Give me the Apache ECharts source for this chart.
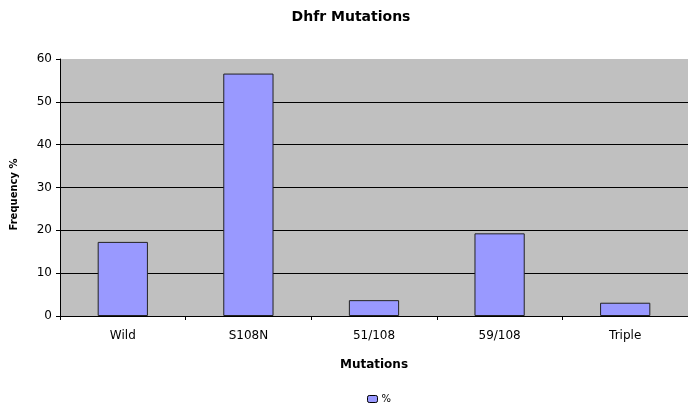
<!DOCTYPE html>
<html><head><meta charset="utf-8">
<script src="https://cdn.jsdelivr.net/npm/echarts@6/dist/echarts.min.js"></script>
<style>html,body{margin:0;padding:0;background:#fff}#c{width:688px;height:406px}</style>
</head><body><div id="c"></div>
<script>
const categories = ['Wild', 'S108N', '51/108', '59/108', 'Triple'];
const values = [17.3, 56.6, 3.7, 19.3, 3.1];
const yTicks = [0, 10, 20, 30, 40, 50, 60];
const seriesName = '%';

const chart = echarts.init(document.getElementById('c'), null, {renderer: 'canvas'});
const font = 'DejaVu Sans, Liberation Sans, Arial, sans-serif';
const gridLines = yTicks.slice(1, -1).map(v => ({yAxis: v}));
chart.setOption({
  animation: false,
  backgroundColor: '#fff',
  title: {
    text: 'Dhfr Mutations', left: 346, top: 5, textAlign: 'center',
    textStyle: {fontFamily: font, fontSize: 14, fontWeight: 'bold', color: '#000'}
  },
  legend: {
    data: [seriesName], left: 362, top: 389, itemWidth: 10, itemHeight: 7, itemGap: 4,
    textStyle: {fontFamily: font, fontSize: 10, color: '#000', padding: [0, 0, 0, -1]},
    itemStyle: {borderColor: '#000', borderWidth: 1}
  },
  grid: {left: 60, top: 59, width: 633, height: 257, backgroundColor: '#c0c0c0', show: true,
         borderWidth: 0, borderColor: 'rgba(0,0,0,0)'},
  xAxis: {
    type: 'category', data: categories,
    name: 'Mutations', nameLocation: 'middle', nameGap: 43,
    nameTextStyle: {fontFamily: font, fontSize: 12, fontWeight: 'bold', color: '#000'},
    axisLine: {lineStyle: {color: '#000', width: 1}},
    axisTick: {show: true, length: 4, lineStyle: {color: '#000'}},
    axisLabel: {fontFamily: font, fontSize: 12, color: '#000', margin: 14},
    splitLine: {show: false}
  },
  yAxis: {
    type: 'value', min: yTicks[0], max: yTicks[yTicks.length - 1], interval: 10,
    name: 'Frequency %', nameLocation: 'middle', nameGap: 41, nameRotate: 90,
    nameTextStyle: {fontFamily: font, fontSize: 10, fontWeight: 'bold', color: '#000', padding: [0, 14, 0, 0]},
    axisLine: {show: true, lineStyle: {color: '#000', width: 1}},
    axisTick: {show: true, length: 4, lineStyle: {color: '#000'}},
    axisLabel: {fontFamily: font, fontSize: 12, color: '#000', margin: 8},
    splitLine: {show: false}
  },
  series: [{
    name: seriesName, type: 'bar', data: values, barWidth: '40%', z: 3,
    itemStyle: {color: '#9999ff', borderColor: '#222', borderWidth: 1},
    markLine: {
      silent: true, symbol: 'none', label: {show: false}, z: 1,
      lineStyle: {color: '#000', width: 1, type: 'solid'},
      data: gridLines
    }
  }]
});
</script></body></html>
